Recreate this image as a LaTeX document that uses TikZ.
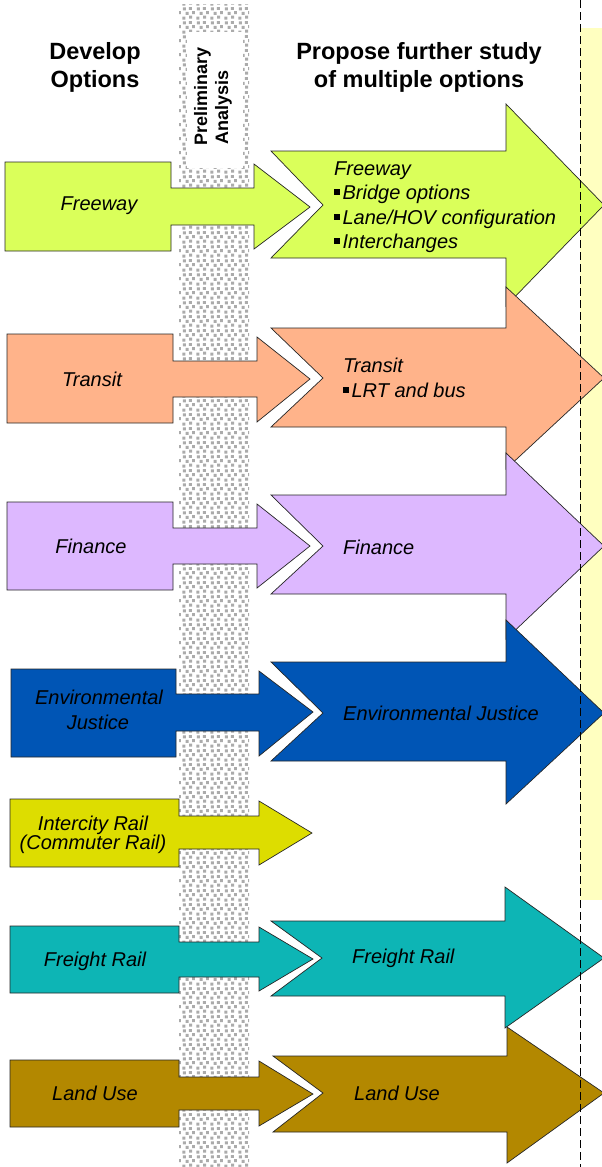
\documentclass[tikz,border=0pt]{standalone}
\usepackage{fontspec}
\setmainfont{Liberation Sans}
\usetikzlibrary{patterns.meta}
\definecolor{cFree}{HTML}{DAFF5A}
\definecolor{cTrans}{HTML}{FFB38A}
\definecolor{cFin}{HTML}{DDB8FF}
\definecolor{cEnv}{HTML}{0055B5}
\definecolor{cInter}{HTML}{DDDD00}
\definecolor{cFreight}{HTML}{0DB5B5}
\definecolor{cLand}{HTML}{B38800}
\definecolor{cPale}{HTML}{FFFFC0}
\definecolor{cDots}{HTML}{ABABAB}
\tikzdeclarepattern{name=stipple, type=uncolored,
  bounding box={(0pt,0pt) and (14pt,14pt)}, tile size={(14pt,14pt)},
  code={
    \fill (0.5pt,0.5pt) rectangle ++(3.2pt,3.2pt);
    \fill (7.5pt,1.5pt) rectangle ++(3.2pt,3.2pt);
    \fill (3.8pt,5.6pt) rectangle ++(3.2pt,3.2pt);
    \fill (10.6pt,6.4pt) rectangle ++(3pt,3pt);
    \fill (0.9pt,10.2pt) rectangle ++(3.2pt,3.2pt);
    \fill (7.2pt,10.8pt) rectangle ++(3.2pt,3pt);
  }}
\newcommand\sqbul{\rule[0.2em]{0.3em}{0.3em}\hspace{0.12em}}
\begin{document}
\begin{tikzpicture}[x=1pt,y=-1pt,
  lab/.style={font=\fontsize{20}{24}\selectfont\itshape, inner sep=0pt, anchor=base},
  rlab/.style={lab, anchor=base west},
  hdr/.style={font=\fontsize{23.5}{28}\selectfont\bfseries, inner sep=0pt, anchor=base},
  prel/.style={font=\fontsize{18}{22}\selectfont\bfseries, inner sep=0pt, anchor=base west, rotate=90},
  shp/.style={draw=black!85, line width=0.7pt, line join=miter}]
\useasboundingbox (0,0) rectangle (602,1167);
% stippled band and pale panel
\fill[pattern=stipple, pattern color=cDots] (179,4) rectangle (249,1167);
\fill[white] (187,32) rectangle (243,168);
\fill[cPale] (580,28) rectangle (602,900);
% left arrows
\filldraw[shp, fill=cFree] (5,162) -- (171,162) -- (171,188) -- (254,188) -- (254,164) -- (310,207) -- (254,249) -- (254,225) -- (171,225) -- (171,251) -- (5,251) -- cycle;
\filldraw[shp, fill=cTrans] (7,334) -- (173,334) -- (173,361) -- (257,361) -- (257,337) -- (310,379) -- (257,422) -- (257,397) -- (173,397) -- (173,423) -- (7,423) -- cycle;
\filldraw[shp, fill=cFin] (7,502) -- (173,502) -- (173,528) -- (257,528) -- (257,504) -- (310,546) -- (257,588) -- (257,564) -- (173,564) -- (173,590) -- (7,590) -- cycle;
\filldraw[shp, fill=cEnv] (11,669) -- (176,669) -- (176,694) -- (259,694) -- (259,671) -- (313,712) -- (259,756) -- (259,731) -- (176,731) -- (176,757) -- (11,757) -- cycle;
\filldraw[shp, fill=cInter] (10,799) -- (179,799) -- (179,816) -- (259,816) -- (259,801) -- (312,833) -- (259,865) -- (259,849) -- (179,849) -- (179,867) -- (10,867) -- cycle;
\filldraw[shp, fill=cFreight] (10,926) -- (179,926) -- (179,942) -- (259,942) -- (259,927) -- (313,959) -- (259,991) -- (259,977) -- (179,977) -- (179,993) -- (10,993) -- cycle;
\filldraw[shp, fill=cLand] (10,1060) -- (179,1060) -- (179,1077) -- (259,1077) -- (259,1061) -- (313,1094) -- (259,1126) -- (259,1110) -- (179,1110) -- (179,1127) -- (10,1127) -- cycle;
% right arrows
\filldraw[shp, fill=cFree] (271,151) -- (506,151) -- (506,104) -- (604,205) -- (506,306) -- (506,258) -- (271,258) -- (323,205) -- cycle;
\filldraw[shp, fill=cTrans] (271,328) -- (506,328) -- (506,287) -- (604,378) -- (506,469) -- (506,427) -- (271,427) -- (323,378) -- cycle;
\filldraw[shp, fill=cFin] (271,495) -- (506,495) -- (506,453) -- (604,546) -- (506,639) -- (506,594) -- (271,594) -- (323,546) -- cycle;
\filldraw[shp, fill=cEnv] (271,662) -- (506,662) -- (506,620) -- (604,713) -- (506,804) -- (506,761) -- (271,761) -- (323,713) -- cycle;
\filldraw[shp, fill=cFreight] (271,921) -- (505,921) -- (505,887) -- (604,958) -- (505,1028) -- (505,996) -- (271,996) -- (322,958) -- cycle;
\filldraw[shp, fill=cLand] (273,1056) -- (507,1056) -- (507,1027) -- (604,1093) -- (507,1163) -- (507,1132) -- (273,1132) -- (323,1093) -- cycle;
% dashed divider
\draw[line width=1pt, dash pattern=on 8pt off 4pt] (580,0) -- (580,1167);
% headers
\node[hdr] (hDev) at (95,59) {Develop};
\node[hdr] (hOpt) at (95,87) {Options};
\node[hdr] (hProp) at (419,59) {Propose further study};
\node[hdr] (hMult) at (419,87) {of multiple options};
\node[prel] (pPre) at (207,146) {Preliminary};
\node[prel] (pAna) at (228,145) {Analysis};
% left labels
\node[lab] (lFree) at (99,210) {Freeway};
\node[lab] (lTrans) at (92,386) {Transit};
\node[lab] (lFin) at (91,553) {Finance};
\node[lab] (lEnvA) at (99,704) {Environmental};
\node[lab] (lEnvB) at (98,729) {Justice};
\node[lab] (lInterA) at (93,830) {Intercity Rail};
\node[lab] (lInterB) at (93,849) {(Commuter Rail)};
\node[lab] (lFreight) at (95,966) {Freight Rail};
\node[lab] (lLand) at (95,1100) {Land Use};
% right labels
\node[rlab] (rFreeA) at (334,175) {Freeway};
\node[rlab] (rFreeB) at (334,199) {\sqbul Bridge options};
\node[rlab] (rFreeC) at (334,224) {\sqbul Lane/HOV configuration};
\node[rlab] (rFreeD) at (334,248) {\sqbul Interchanges};
\node[rlab] (rTransA) at (343,372) {Transit};
\node[rlab] (rTransB) at (343,397) {\sqbul LRT and bus};
\node[rlab] (rFin) at (343,554) {Finance};
\node[rlab] (rEnv) at (343,720) {Environmental Justice};
\node[rlab] (rFreight) at (352,963) {Freight Rail};
\node[rlab] (rLand) at (354,1100) {Land Use};
\end{tikzpicture}
\end{document}
